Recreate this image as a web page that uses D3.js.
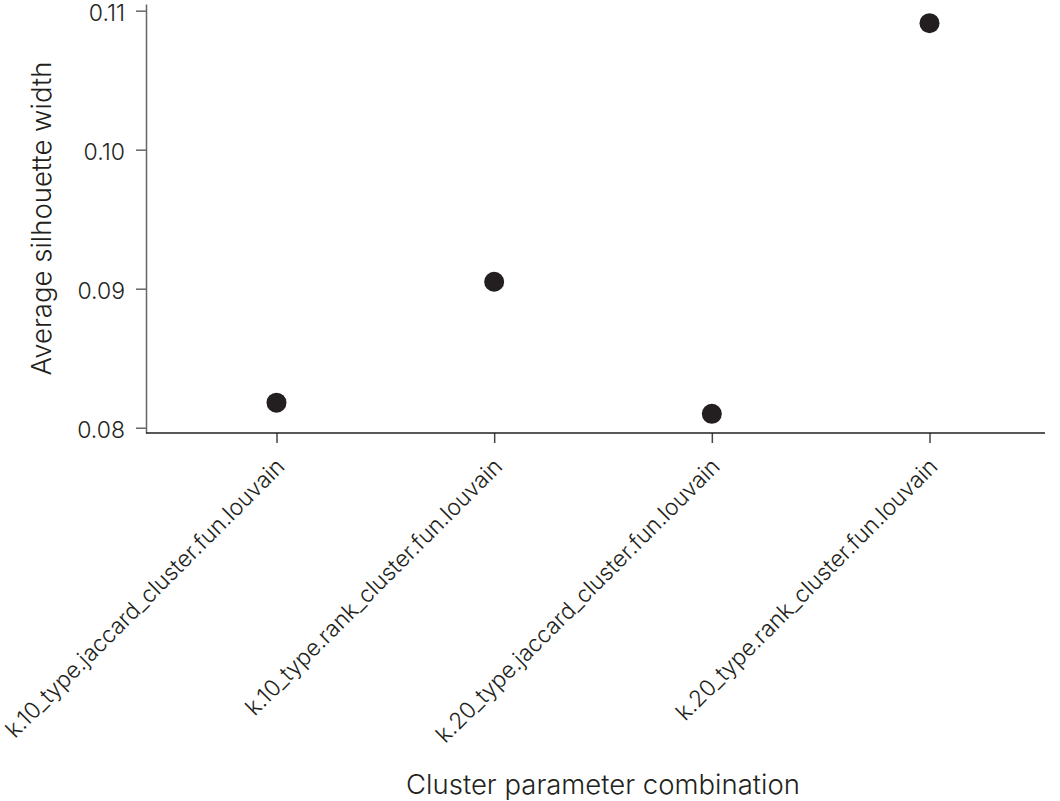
<!DOCTYPE html>
<html>
<head>
<meta charset="utf-8">
<script src="https://cdn.jsdelivr.net/npm/d3@7"></script>
<style>
  body { margin: 0; background: #fff; }
  text { font-family: Inter, "Noto Sans", sans-serif; fill: #231f20; font-weight: 300; }
</style>
</head>
<body>
<div id="chart"></div>
<script>
// cluster parameter combinations and their average silhouette width
const combos = [
  "k.10_type.jaccard_cluster.fun.louvain",
  "k.10_type.rank_cluster.fun.louvain",
  "k.20_type.jaccard_cluster.fun.louvain",
  "k.20_type.rank_cluster.fun.louvain"
];
const silhouette = [0.0818, 0.0905, 0.0810, 0.1091];
const yTicks = [0.08, 0.09, 0.10, 0.11];

const width = 1060, height = 801;
const margin = {left: 146, right: 15, top: 4, bottom: 368};
const font = "Inter, sans-serif";

const svg = d3.select("#chart")
  .append("svg")
  .attr("width", width)
  .attr("height", height);

const data = combos.map((c, i) => ({name: c, value: silhouette[i]}));

// y scale, axis runs a bit past the outer ticks
let yScale = d3.scaleLinear()
  .domain([0.07962, 0.11048])
  .range([height - margin.bottom, margin.top]);

// x positions of the categories (not centred in the axis)
let xScale = d3.scalePoint()
  .domain(combos)
  .range([276.5, 929.5]);

// y axis
const gy = svg.append("g")
  .attr("transform", `translate(${margin.left},0)`)
  .call(d3.axisLeft(yScale)
    .tickValues(yTicks)
    .tickFormat(d3.format(".2f"))
    .tickSize(10)
    .tickSizeOuter(0)
    .tickPadding(11));
gy.selectAll("path, line").attr("stroke", "#666").attr("stroke-width", 1.5);
gy.selectAll("text")
  .attr("font-size", "23px")
  .attr("font-family", font)
  .attr("font-weight", 300)
  .attr("fill", "#231f20")
  .attr("dy", "0.42em");

// x axis
const gx = svg.append("g")
  .attr("transform", `translate(0,${height - margin.bottom})`)
  .call(d3.axisBottom(xScale).tickSize(10).tickSizeOuter(0));
gx.select(".domain").remove();
gx.append("line")
  .attr("x1", margin.left).attr("x2", width - margin.right)
  .attr("stroke", "#231f20").attr("stroke-width", 1.5);
gx.selectAll(".tick line").attr("stroke", "#444").attr("stroke-width", 1.5);
gx.selectAll(".tick text")
  .attr("font-size", "22.8px")
  .attr("font-family", font)
  .attr("font-weight", 300)
  .attr("fill", "#231f20")
  .attr("text-anchor", "end")
  .attr("y", 0)
  .attr("dy", "0")
  .attr("transform", "translate(9,35) rotate(-45)");

// axis titles
svg.append("text")
  .attr("x", 603)
  .attr("y", 794)
  .attr("text-anchor", "middle")
  .attr("font-size", "27.5px")
  .text("Cluster parameter combination");

svg.append("text")
  .attr("transform", "translate(51,218.5) rotate(-90)")
  .attr("text-anchor", "middle")
  .attr("font-size", "27.5px")
  .text("Average silhouette width");

// points
svg.selectAll(".dot")
  .data(data)
  .enter()
  .append("circle")
    .attr("class", "dot")
    .attr("r", 10)
    .attr("cx", d => xScale(d.name))
    .attr("cy", d => yScale(d.value))
    .attr("fill", "#231f20");
</script>
</body>
</html>
